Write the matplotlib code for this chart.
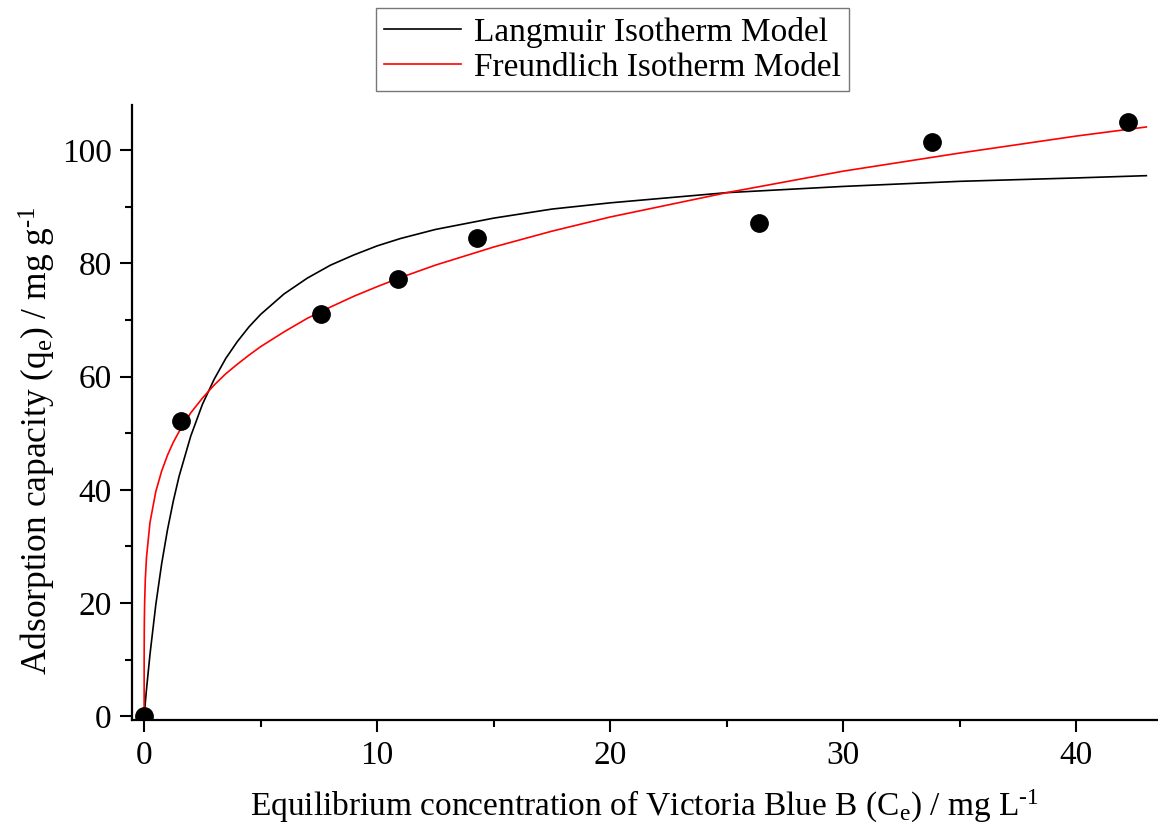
import matplotlib
matplotlib.use("Agg")
from matplotlib import pyplot as plt
from matplotlib.ticker import MultipleLocator

# experimental points
ce = [0.0, 1.6, 7.6, 10.9, 14.3, 26.4, 33.8, 42.2]
qe = [0.0, 52.2, 71.0, 77.2, 84.5, 87.1, 101.5, 105.0]

# Langmuir curve
lang_c = [0, 0.05, 0.1, 0.25, 0.5, 0.75, 1, 1.25, 1.5, 2, 2.5, 3, 3.5, 4, 4.5, 5, 6, 7, 8,
          9, 10, 11, 12.5, 15, 17.5, 20, 25, 30, 35, 40, 43]
lang_q = [0, 2.4, 4.7, 10.9, 19.7, 26.9, 32.9, 38.0, 42.4, 49.5, 55.1, 59.5, 63.2, 66.2,
          68.8, 71.0, 74.6, 77.4, 79.7, 81.5, 83.1, 84.4, 86.0, 88.0, 89.6, 90.7, 92.5,
          93.6, 94.5, 95.1, 95.5]

# Freundlich curve
freu_c = [0, 0.001, 0.005, 0.01, 0.02, 0.05, 0.1, 0.25, 0.5, 0.75, 1, 1.25, 1.5, 2, 2.5, 3,
          3.5, 4, 4.5, 5, 6, 7, 8, 9, 10, 11, 12.5, 15, 17.5, 20, 25, 30, 35, 40, 43]
freu_q = [0, 10.3, 14.6, 17.0, 19.8, 24.1, 28.0, 34.2, 39.7, 43.3, 46.1, 48.4, 50.3, 53.6,
          56.2, 58.5, 60.5, 62.2, 63.8, 65.3, 67.9, 70.3, 72.3, 74.2, 75.9, 77.5, 79.7,
          82.9, 85.7, 88.2, 92.5, 96.3, 99.5, 102.5, 104.1]

plt.rcParams['font.family'] = ['Liberation Serif', 'DejaVu Serif']
plt.rcParams['mathtext.fontset'] = 'custom'
plt.rcParams['mathtext.rm'] = 'Liberation Serif'
plt.rcParams['mathtext.it'] = 'Liberation Serif'
plt.rcParams['font.size'] = 24

fig = plt.figure(figsize=(11.58, 8.26), dpi=100)
ax = fig.add_axes([0.114, 0.128, 0.886, 0.745])

l1, = ax.plot(lang_c, lang_q, color='black', lw=1.2, label='Langmuir Isotherm Model')
l2, = ax.plot(freu_c, freu_q, color='red', lw=1.2, label='Freundlich Isotherm Model')
ax.plot(ce, qe, 'o', color='black', markersize=12.5, zorder=3)

ax.set_xlim(-0.52, 43.5)
ax.set_ylim(-0.7, 108)
ax.xaxis.set_major_locator(MultipleLocator(10))
ax.xaxis.set_minor_locator(MultipleLocator(5))
ax.yaxis.set_major_locator(MultipleLocator(20))
ax.yaxis.set_minor_locator(MultipleLocator(10))

for s in ['top', 'right']:
    ax.spines[s].set_visible(False)
for s in ['left', 'bottom']:
    ax.spines[s].set_linewidth(1.6)
ax.tick_params(which='major', direction='out', length=8.5, width=1.5, labelsize=24, pad=6)
ax.tick_params(which='minor', direction='out', length=5, width=1.5)

ax.set_xlabel('Equilibrium concentration of Victoria Blue B (C$_\\mathregular{e}$) / mg L$^\\mathregular{\u20101}$',
              fontsize=24, labelpad=12)
ax.set_ylabel('Adsorption capacity (q$_\\mathregular{e}$) / mg g$^\\mathregular{\u20101}$',
              fontsize=25.5)
ax.yaxis.set_label_coords(-0.072, 0.455)

leg = fig.legend(handles=[l1, l2], loc='upper center', bbox_to_anchor=(0.529, 0.99),
                 fontsize=24, frameon=True, fancybox=False, handlelength=2.3,
                 labelspacing=0.15, borderpad=0.25, handletextpad=0.4, borderaxespad=0)
leg.get_frame().set_edgecolor('#555555')
leg.get_frame().set_linewidth(1.0)

plt.savefig('out.png', dpi=100)
